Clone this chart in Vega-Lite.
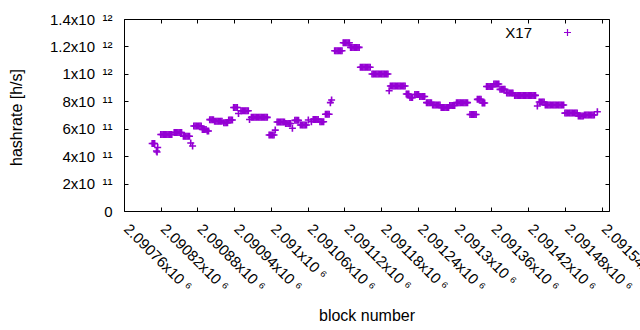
{
  "$schema": "https://vega.github.io/schema/vega-lite/v6.json",
  "width": 485,
  "height": 192,
  "autosize": "none",
  "padding": {"left": 124, "top": 19, "right": 31, "bottom": 119},
  "background": "white",
  "config": {
    "view": {"stroke": "black", "strokeWidth": 1},
    "font": "Liberation Sans",
    "axis": {"domain": false, "grid": false, "tickColor": "black", "tickWidth": 1, "labelColor": "black", "titleColor": "black", "labelFont": "Liberation Sans", "titleFont": "Liberation Sans", "labelFontSize": 15, "titleFontSize": 16, "titleFontWeight": "normal"}
  },
  "data": {"values": [
    {"b":2090806,"h":492e9},{"b":2090808,"h":492e9},{"b":2090810,"h":492e9},
    {"b":2090813,"h":437e9},{"b":2090814,"h":430e9},{"b":2090815,"h":463e9},
    {"b":2090820,"h":558e9},{"b":2090822,"h":558e9},{"b":2090824,"h":558e9},{"b":2090826,"h":558e9},{"b":2090828,"h":558e9},{"b":2090830,"h":558e9},{"b":2090832,"h":558e9},{"b":2090834,"h":558e9},{"b":2090836,"h":558e9},{"b":2090838,"h":558e9},
    {"b":2090842,"h":572e9},{"b":2090844,"h":572e9},{"b":2090846,"h":572e9},{"b":2090848,"h":572e9},{"b":2090850,"h":572e9},{"b":2090852,"h":572e9},{"b":2090854,"h":572e9},
    {"b":2090857,"h":545e9},{"b":2090859,"h":545e9},{"b":2090861,"h":545e9},{"b":2090863,"h":545e9},{"b":2090865,"h":545e9},{"b":2090867,"h":545e9},
    {"b":2090869,"h":496e9},{"b":2090872,"h":474e9},
    {"b":2090874,"h":620e9},{"b":2090876,"h":620e9},{"b":2090878,"h":620e9},{"b":2090880,"h":620e9},{"b":2090882,"h":620e9},{"b":2090884,"h":620e9},{"b":2090886,"h":620e9},
    {"b":2090888,"h":594e9},{"b":2090890,"h":594e9},{"b":2090892,"h":594e9},{"b":2090894,"h":594e9},
    {"b":2090896,"h":583e9},{"b":2090898,"h":583e9},
    {"b":2090900,"h":666e9},{"b":2090902,"h":666e9},{"b":2090904,"h":666e9},{"b":2090906,"h":666e9},
    {"b":2090908,"h":654e9},{"b":2090910,"h":654e9},{"b":2090912,"h":654e9},{"b":2090914,"h":654e9},{"b":2090916,"h":654e9},{"b":2090918,"h":654e9},{"b":2090920,"h":654e9},
    {"b":2090923,"h":644e9},{"b":2090925,"h":644e9},{"b":2090927,"h":644e9},{"b":2090929,"h":644e9},
    {"b":2090931,"h":663e9},{"b":2090933,"h":663e9},{"b":2090935,"h":663e9},{"b":2090937,"h":663e9},
    {"b":2090939,"h":755e9},{"b":2090941,"h":755e9},{"b":2090943,"h":755e9},{"b":2090945,"h":755e9},
    {"b":2090947,"h":711e9},
    {"b":2090951,"h":731e9},{"b":2090953,"h":731e9},{"b":2090955,"h":731e9},{"b":2090957,"h":731e9},{"b":2090959,"h":731e9},{"b":2090961,"h":731e9},{"b":2090963,"h":731e9},
    {"b":2090965,"h":667e9},
    {"b":2090968,"h":683e9},{"b":2090970,"h":683e9},{"b":2090972,"h":683e9},{"b":2090974,"h":683e9},{"b":2090976,"h":683e9},{"b":2090978,"h":683e9},{"b":2090980,"h":683e9},{"b":2090982,"h":683e9},{"b":2090984,"h":683e9},{"b":2090986,"h":683e9},{"b":2090988,"h":683e9},{"b":2090990,"h":683e9},{"b":2090992,"h":683e9},{"b":2090994,"h":683e9},
    {"b":2090997,"h":554e9},{"b":2090999,"h":554e9},{"b":2091001,"h":554e9},{"b":2091003,"h":554e9},{"b":2091005,"h":554e9},
    {"b":2091007,"h":590e9},
    {"b":2091010,"h":649e9},{"b":2091012,"h":649e9},{"b":2091014,"h":649e9},{"b":2091016,"h":649e9},{"b":2091018,"h":649e9},{"b":2091020,"h":649e9},{"b":2091022,"h":649e9},
    {"b":2091024,"h":638e9},{"b":2091026,"h":638e9},{"b":2091028,"h":638e9},{"b":2091030,"h":638e9},{"b":2091032,"h":638e9},
    {"b":2091035,"h":603e9},
    {"b":2091039,"h":661e9},{"b":2091041,"h":661e9},{"b":2091043,"h":661e9},{"b":2091045,"h":661e9},
    {"b":2091048,"h":627e9},{"b":2091050,"h":627e9},{"b":2091052,"h":627e9},{"b":2091054,"h":627e9},{"b":2091056,"h":627e9},{"b":2091058,"h":627e9},
    {"b":2091061,"h":663e9},{"b":2091066,"h":651e9},
    {"b":2091069,"h":668e9},{"b":2091071,"h":668e9},{"b":2091073,"h":668e9},{"b":2091075,"h":668e9},{"b":2091077,"h":668e9},
    {"b":2091080,"h":651e9},{"b":2091082,"h":651e9},{"b":2091084,"h":651e9},{"b":2091086,"h":651e9},
    {"b":2091089,"h":706e9},{"b":2091091,"h":706e9},{"b":2091093,"h":706e9},{"b":2091095,"h":706e9},
    {"b":2091097,"h":790e9},{"b":2091099,"h":809e9},
    {"b":2091104,"h":1169e9},{"b":2091106,"h":1169e9},{"b":2091108,"h":1169e9},{"b":2091110,"h":1169e9},{"b":2091112,"h":1169e9},{"b":2091114,"h":1169e9},{"b":2091116,"h":1169e9},
    {"b":2091118,"h":1227e9},{"b":2091120,"h":1227e9},{"b":2091122,"h":1227e9},{"b":2091124,"h":1227e9},{"b":2091126,"h":1227e9},{"b":2091128,"h":1227e9},
    {"b":2091130,"h":1193e9},{"b":2091132,"h":1193e9},{"b":2091134,"h":1193e9},{"b":2091136,"h":1193e9},{"b":2091138,"h":1193e9},{"b":2091140,"h":1193e9},{"b":2091142,"h":1193e9},{"b":2091144,"h":1193e9},
    {"b":2091146,"h":1048e9},{"b":2091148,"h":1048e9},{"b":2091150,"h":1048e9},{"b":2091152,"h":1048e9},{"b":2091154,"h":1048e9},{"b":2091156,"h":1048e9},{"b":2091158,"h":1048e9},{"b":2091160,"h":1048e9},{"b":2091162,"h":1048e9},
    {"b":2091165,"h":999e9},{"b":2091167,"h":999e9},{"b":2091169,"h":999e9},{"b":2091171,"h":999e9},{"b":2091173,"h":999e9},{"b":2091175,"h":999e9},{"b":2091177,"h":999e9},{"b":2091179,"h":999e9},{"b":2091181,"h":999e9},{"b":2091183,"h":999e9},{"b":2091185,"h":999e9},{"b":2091187,"h":999e9},{"b":2091189,"h":999e9},{"b":2091191,"h":999e9},
    {"b":2091193,"h":877e9},
    {"b":2091195,"h":911e9},{"b":2091197,"h":911e9},{"b":2091199,"h":911e9},{"b":2091201,"h":911e9},{"b":2091203,"h":911e9},{"b":2091205,"h":911e9},{"b":2091207,"h":911e9},{"b":2091209,"h":911e9},{"b":2091211,"h":911e9},{"b":2091213,"h":911e9},{"b":2091215,"h":911e9},{"b":2091217,"h":911e9},{"b":2091219,"h":911e9},
    {"b":2091221,"h":853e9},{"b":2091223,"h":853e9},{"b":2091225,"h":853e9},
    {"b":2091227,"h":827e9},{"b":2091229,"h":827e9},{"b":2091231,"h":827e9},
    {"b":2091235,"h":849e9},{"b":2091237,"h":849e9},{"b":2091239,"h":849e9},{"b":2091241,"h":849e9},
    {"b":2091243,"h":835e9},{"b":2091245,"h":835e9},{"b":2091247,"h":835e9},{"b":2091249,"h":835e9},{"b":2091251,"h":835e9},
    {"b":2091254,"h":790e9},{"b":2091256,"h":790e9},{"b":2091258,"h":790e9},{"b":2091260,"h":790e9},{"b":2091262,"h":790e9},
    {"b":2091264,"h":773e9},{"b":2091266,"h":773e9},{"b":2091268,"h":773e9},{"b":2091270,"h":773e9},{"b":2091272,"h":773e9},{"b":2091274,"h":773e9},{"b":2091276,"h":773e9},
    {"b":2091278,"h":755e9},{"b":2091280,"h":755e9},{"b":2091282,"h":755e9},{"b":2091284,"h":755e9},{"b":2091286,"h":755e9},{"b":2091288,"h":755e9},{"b":2091290,"h":755e9},
    {"b":2091292,"h":769e9},{"b":2091294,"h":769e9},{"b":2091296,"h":769e9},{"b":2091298,"h":769e9},{"b":2091300,"h":769e9},
    {"b":2091303,"h":790e9},{"b":2091305,"h":790e9},{"b":2091307,"h":790e9},{"b":2091309,"h":790e9},{"b":2091311,"h":790e9},{"b":2091313,"h":790e9},{"b":2091315,"h":790e9},{"b":2091317,"h":790e9},{"b":2091319,"h":790e9},{"b":2091321,"h":790e9},
    {"b":2091325,"h":704e9},{"b":2091327,"h":704e9},{"b":2091329,"h":704e9},{"b":2091331,"h":704e9},{"b":2091333,"h":704e9},{"b":2091335,"h":704e9},
    {"b":2091337,"h":814e9},{"b":2091339,"h":814e9},{"b":2091341,"h":814e9},{"b":2091343,"h":814e9},
    {"b":2091345,"h":787e9},{"b":2091347,"h":787e9},{"b":2091349,"h":787e9},
    {"b":2091352,"h":908e9},{"b":2091354,"h":908e9},{"b":2091356,"h":908e9},{"b":2091358,"h":908e9},{"b":2091360,"h":908e9},{"b":2091362,"h":908e9},
    {"b":2091364,"h":926e9},{"b":2091366,"h":926e9},{"b":2091368,"h":926e9},{"b":2091370,"h":926e9},{"b":2091372,"h":926e9},
    {"b":2091374,"h":887e9},{"b":2091376,"h":887e9},{"b":2091378,"h":887e9},{"b":2091380,"h":887e9},{"b":2091382,"h":887e9},
    {"b":2091385,"h":860e9},{"b":2091387,"h":860e9},{"b":2091389,"h":860e9},{"b":2091391,"h":860e9},{"b":2091393,"h":860e9},{"b":2091395,"h":860e9},
    {"b":2091398,"h":843e9},{"b":2091400,"h":843e9},{"b":2091402,"h":843e9},{"b":2091404,"h":843e9},{"b":2091406,"h":843e9},{"b":2091408,"h":843e9},{"b":2091410,"h":843e9},{"b":2091412,"h":843e9},{"b":2091414,"h":843e9},{"b":2091416,"h":843e9},{"b":2091418,"h":843e9},{"b":2091420,"h":843e9},{"b":2091422,"h":843e9},{"b":2091424,"h":843e9},{"b":2091426,"h":843e9},{"b":2091428,"h":843e9},{"b":2091430,"h":843e9},{"b":2091432,"h":843e9},
    {"b":2091435,"h":766e9},
    {"b":2091438,"h":795e9},{"b":2091440,"h":795e9},{"b":2091442,"h":795e9},{"b":2091444,"h":795e9},{"b":2091446,"h":795e9},
    {"b":2091448,"h":773e9},{"b":2091450,"h":773e9},{"b":2091452,"h":773e9},{"b":2091454,"h":773e9},{"b":2091456,"h":773e9},{"b":2091458,"h":773e9},{"b":2091460,"h":773e9},{"b":2091462,"h":773e9},{"b":2091464,"h":773e9},{"b":2091466,"h":773e9},{"b":2091468,"h":773e9},{"b":2091470,"h":773e9},{"b":2091472,"h":773e9},{"b":2091474,"h":773e9},{"b":2091476,"h":773e9},{"b":2091478,"h":773e9},
    {"b":2091480,"h":714e9},{"b":2091482,"h":714e9},{"b":2091484,"h":714e9},{"b":2091486,"h":714e9},{"b":2091488,"h":714e9},{"b":2091490,"h":714e9},{"b":2091492,"h":714e9},{"b":2091494,"h":714e9},{"b":2091496,"h":714e9},{"b":2091498,"h":714e9},{"b":2091500,"h":714e9},
    {"b":2091502,"h":693e9},{"b":2091504,"h":693e9},{"b":2091506,"h":693e9},{"b":2091508,"h":693e9},{"b":2091510,"h":693e9},
    {"b":2091512,"h":700e9},{"b":2091514,"h":700e9},{"b":2091516,"h":700e9},{"b":2091518,"h":700e9},{"b":2091520,"h":700e9},{"b":2091522,"h":700e9},{"b":2091524,"h":700e9},{"b":2091526,"h":700e9},{"b":2091528,"h":700e9},
    {"b":2091533,"h":724e9}
  ]},
  "layer": [
    {
      "mark": {"type": "point", "shape": "M-1,0H1M0,-1V1", "size": 49, "filled": false, "strokeWidth": 1.6, "opacity": 1},
      "encoding": {
        "x": {"field": "b", "type": "quantitative",
          "scale": {"domain": [2090760, 2091552], "nice": false, "zero": false},
          "axis": {"orient": "bottom", "values": [2090760,2090820,2090880,2090940,2091000,2091060,2091120,2091180,2091240,2091300,2091360,2091420,2091480,2091540],
            "labelExpr": "format(datum.value/1e6, '.5~f') + 'x10 ⁶'",
            "labelAngle": 45, "labelAlign": "left", "labelBaseline": "top", "labelPadding": 14, "labelOffset": 7, "tickSize": -4, "labelOverlap": false, "labelFlush": false, "labelBound": false,
            "title": "block number", "titleY": 109, "titleBaseline": "alphabetic"}},
        "y": {"field": "h", "type": "quantitative",
          "scale": {"domain": [0, 1400000000000], "nice": false},
          "axis": {"orient": "left", "values": [0,200000000000,400000000000,600000000000,800000000000,1000000000000,1200000000000,1400000000000],
            "labelExpr": "datum.value == 0 ? '0' : (datum.value < 1e12 ? format(datum.value/1e11, 'd') + 'x10\u2002¹¹' : format(datum.value/1e12, '.1~f') + 'x10\u2002¹²')",
            "labelPadding": 16, "tickSize": -4, "labelOverlap": false, "labelFlush": false,
            "title": "hashrate [h/s]", "titleX": -103, "titleY": 98, "titleBaseline": "alphabetic"}},
        "color": {"datum": "X17", "type": "nominal",
          "scale": {"range": ["#9400d3"]},
          "legend": {"title": null, "orient": "none", "legendX": 436, "legendY": 6, "padding": 0,
            "symbolType": "M-1,0H1M0,-1V1", "symbolSize": 49, "symbolStrokeWidth": 1.2, "symbolFillColor": "transparent",
            "labelAlign": "right", "labelOffset": -43, "labelFontSize": 15, "labelColor": "black", "labelFont": "Liberation Sans"}}
      }
    },
    {
      "mark": {"type": "point", "opacity": 0},
      "encoding": {
        "x": {"field": "b", "type": "quantitative",
          "axis": {"orient": "top", "values": [2090760,2090820,2090880,2090940,2091000,2091060,2091120,2091180,2091240,2091300,2091360,2091420,2091480,2091540], "labels": false, "title": null, "tickSize": -4}},
        "y": {"field": "h", "type": "quantitative",
          "axis": {"orient": "right", "values": [0,200000000000,400000000000,600000000000,800000000000,1000000000000,1200000000000,1400000000000], "labels": false, "title": null, "tickSize": -4}}
      }
    }
  ],
  "resolve": {"axis": {"x": "independent", "y": "independent"}}
}
